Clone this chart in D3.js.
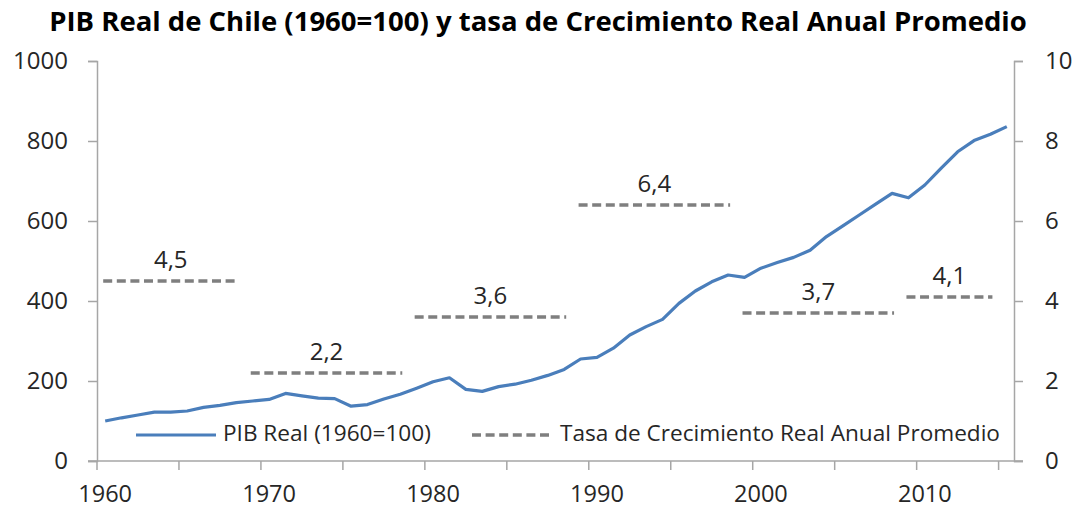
<!DOCTYPE html>
<html>
<head>
<meta charset="utf-8">
<script src="https://cdn.jsdelivr.net/npm/d3@7"></script>
<style>
  body { margin: 0; background: #fff; }
  svg { display: block; font-family: "Open Sans", sans-serif; }
</style>
</head>
<body>
<svg id="chart" width="1080" height="510"></svg>
<script>
// years on the category axis
const years = d3.range(1960, 2016);

// PIB Real (1960=100)
const pib = [100, 108, 115, 122, 122, 125, 134, 139, 146, 150,
             154, 169, 163, 157, 156, 137, 141, 155, 167, 182,
             198, 208, 179, 174, 186, 192, 202, 214, 229, 255,
             259, 282, 315, 336, 354, 394, 425, 448, 465, 459,
             482, 496, 509, 527, 561, 588, 615, 642, 669, 658,
             690, 732, 773, 801, 817, 836];

// average real growth by period
const periodStart = [1960, 1969, 1979, 1989, 1999, 2009];
const periodEnd   = [1968, 1978, 1988, 1998, 2008, 2014];
const growth      = [4.5, 2.2, 3.6, 6.4, 3.7, 4.1];

const leftTicks = [0, 200, 400, 600, 800, 1000];
const rightTicks = [0, 2, 4, 6, 8, 10];
const xLabels = [1960, 1970, 1980, 1990, 2000, 2010];

const BLUE = "#4a7ebb";
const GREY = "#7f7f7f";
const AXIS = "#a6a6a6";
const TEXT = "#262626";

const svg = d3.select("#chart");

const x = d3.scaleBand().domain(years).range([97, 1015]).paddingInner(0).paddingOuter(0);
const yL = d3.scaleLinear().domain([0, 1000]).range([461, 61]);
const yR = d3.scaleLinear().domain([0, 10]).range([461, 61]);
const cx = yr => x(yr) + x.bandwidth() / 2;

// title
svg.append("text")
  .attr("x", 538).attr("y", 31)
  .attr("text-anchor", "middle")
  .attr("font-weight", "bold")
  .attr("font-size", 27.5)
  .attr("fill", "#000")
  .text("PIB Real de Chile (1960=100) y tasa de Crecimiento Real Anual Promedio");

// left axis
const gL = svg.append("g").attr("transform", "translate(97,0)")
  .call(d3.axisLeft(yL).tickValues(leftTicks).tickSize(9).tickPadding(20).tickFormat(d3.format("d")));
// right axis
const gR = svg.append("g").attr("transform", "translate(1014,0)")
  .call(d3.axisRight(yR).tickValues(rightTicks).tickSize(9).tickPadding(22).tickFormat(d3.format("d")));
[gL, gR].forEach(g => {
  g.select(".domain").attr("stroke", AXIS).attr("stroke-width", 1.5);
  g.selectAll(".tick line").attr("stroke", AXIS).attr("stroke-width", 1.5);
  g.selectAll(".tick text").attr("font-size", 24).attr("fill", TEXT)
    .attr("font-family", "Open Sans, sans-serif");
});

// bottom axis: tick marks every 5 years at category edges, labels every 10 at centres
const gB = svg.append("g");
gB.append("line")
  .attr("x1", 88).attr("x2", 1023).attr("y1", 461).attr("y2", 461)
  .attr("stroke", AXIS).attr("stroke-width", 1.5);
gB.selectAll(".xt")
  .data(years.filter(d => (d - 1960) % 5 === 0))
  .join("line")
  .attr("x1", d => x(d)).attr("x2", d => x(d))
  .attr("y1", 461).attr("y2", 470)
  .attr("stroke", AXIS).attr("stroke-width", 1.5);
gB.selectAll(".xl")
  .data(xLabels)
  .join("text")
  .attr("x", d => cx(d)).attr("y", 502)
  .attr("text-anchor", "middle")
  .attr("font-size", 23.5).attr("fill", TEXT)
  .text(d => d);

// PIB line
const line = d3.line().x((d, i) => cx(years[i])).y(d => yL(d));
svg.append("path")
  .datum(pib)
  .attr("d", line)
  .attr("fill", "none")
  .attr("stroke", BLUE)
  .attr("stroke-width", 3.2)
  .attr("stroke-linejoin", "round");

// growth dashes and labels
const gG = svg.append("g");
gG.selectAll("line")
  .data(growth)
  .join("line")
  .attr("x1", (d, i) => cx(periodStart[i]) - 2)
  .attr("x2", (d, i) => cx(periodEnd[i]) + 2)
  .attr("y1", d => yR(d)).attr("y2", d => yR(d))
  .attr("stroke", GREY)
  .attr("stroke-width", 3.5)
  .attr("stroke-dasharray", "9,4.6");
gG.selectAll("text")
  .data(growth)
  .join("text")
  .attr("x", (d, i) => (cx(periodStart[i]) + cx(periodEnd[i])) / 2)
  .attr("y", d => yR(d) - 13)
  .attr("text-anchor", "middle")
  .attr("font-size", 24).attr("fill", TEXT)
  .text(d => d.toFixed(1).replace(".", ","));

// legend
const lg = svg.append("g");
lg.append("line").attr("x1", 136).attr("x2", 216).attr("y1", 435).attr("y2", 435)
  .attr("stroke", BLUE).attr("stroke-width", 3.2);
lg.append("text").attr("x", 223).attr("y", 441)
  .attr("font-size", 22.6).attr("fill", TEXT).text("PIB Real (1960=100)");
lg.append("line").attr("x1", 472).attr("x2", 551).attr("y1", 435).attr("y2", 435)
  .attr("stroke", GREY).attr("stroke-width", 3.5).attr("stroke-dasharray", "9,4.6");
lg.append("text").attr("x", 560).attr("y", 441)
  .attr("font-size", 22.6).attr("fill", TEXT).text("Tasa de Crecimiento Real Anual Promedio");
</script>
</body>
</html>
